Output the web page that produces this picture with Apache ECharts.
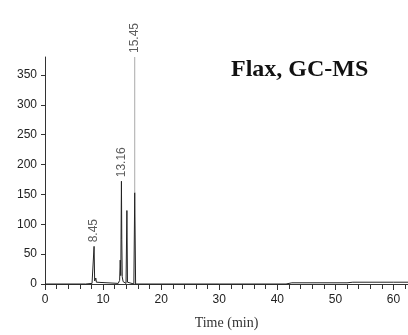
<!DOCTYPE html>
<html>
<head>
<meta charset="utf-8">
<script src="https://cdn.jsdelivr.net/npm/echarts@6/dist/echarts.min.js"></script>
<style>
  html, body { margin: 0; padding: 0; background: #fff; }
  #chart { width: 408px; height: 335px; }
</style>
</head>
<body>
<div id="chart"></div>
<script>
// retention time (min) and abundance
var times = [0, 7, 8.1, 8.3, 8.45, 8.55, 8.65, 8.75, 8.85, 9.0, 12.6, 12.85, 12.95, 13.05, 13.16, 13.22, 13.3, 13.45, 13.7, 13.95, 14.1, 14.2, 14.35, 15.3, 15.45, 15.6, 30, 41.5, 42.5, 52, 53, 60, 62.5];
var abund = [0, 0, 1, 3, 63, 5, 8, 10, 3, 0, 1, 6, 40, 14, 172, 75, 12, 4, 1, 1, 123, 3, 0, 0, 153, 0, 0, 0, 2, 2, 3, 3, 3];
// faint top of the tallest peak
var spikeTimes = [15.45, 15.45];
var spikeAbund = [153, 380];
// labelled peaks
var peakTimes = [8.45, 13.16, 15.45];
var peakAbund = [63, 172, 380];
var peakNames = ['8.45', '13.16', '15.45'];

var xTicks = [0, 10, 20, 30, 40, 50, 60];
var yTicks = [0, 50, 100, 150, 200, 250, 300, 350];

function pairs(a, b) {
    var out = [];
    for (var i = 0; i < a.length; i++) {
        out.push([a[i], b[i]]);
    }
    return out;
}

var chart = echarts.init(document.getElementById('chart'));
var labelFont = 'Liberation Sans Narrow, Liberation Sans, sans-serif';

chart.setOption({
    animation: false,
    title: {
        text: 'Flax, GC-MS',
        left: 226,
        top: 53,
        textStyle: { fontFamily: 'Liberation Serif, serif', fontWeight: 'bold', fontSize: 24, color: '#111' }
    },
    grid: { left: 45, right: 0, top: 57, bottom: 50 },
    xAxis: {
        type: 'value',
        min: 0,
        max: 62.5,
        interval: 10,
        name: 'Time (min)',
        nameLocation: 'middle',
        nameGap: 32,
        nameTextStyle: { fontFamily: 'Liberation Serif, serif', fontSize: 14, color: '#333' },
        axisLine: { show: true, lineStyle: { color: '#333', width: 1 } },
        axisTick: { show: true, length: 6, lineStyle: { color: '#333' } },
        minorTick: { show: true, splitNumber: 5, length: 5, lineStyle: { color: '#333' } },
        splitLine: { show: false },
        axisLabel: {
            margin: 10,
            fontFamily: labelFont,
            fontSize: 12,
            color: '#222',
            showMaxLabel: false,
            formatter: function (v) { return xTicks.indexOf(v) >= 0 ? String(v) : ''; }
        }
    },
    yAxis: {
        type: 'value',
        min: 0,
        max: 380,
        interval: 50,
        axisLine: { show: true, lineStyle: { color: '#333', width: 1 } },
        axisTick: { show: true, length: 4, lineStyle: { color: '#333' } },
        splitLine: { show: false },
        axisLabel: {
            margin: 8,
            fontFamily: labelFont,
            fontSize: 12,
            color: '#222',
            showMaxLabel: false,
            formatter: function (v) { return yTicks.indexOf(v) >= 0 ? String(v) : ''; }
        }
    },
    series: [{
        type: 'line',
        data: pairs(times, abund),
        showSymbol: false,
        clip: false,
        lineStyle: { color: '#222', width: 1 }
    }, {
        type: 'line',
        data: pairs(spikeTimes, spikeAbund),
        showSymbol: false,
        clip: false,
        lineStyle: { color: '#aaa', width: 1 }
    }, {
        type: 'scatter',
        symbolSize: 0,
        data: pairs(peakTimes, peakAbund),
        label: {
            show: true,
            position: [0, -4],
            rotate: 90,
            align: 'left',
            verticalAlign: 'middle',
            fontFamily: labelFont,
            fontSize: 12,
            color: '#333',
            formatter: function (p) { return peakNames[p.dataIndex]; }
        }
    }]
});
</script>
</body>
</html>
